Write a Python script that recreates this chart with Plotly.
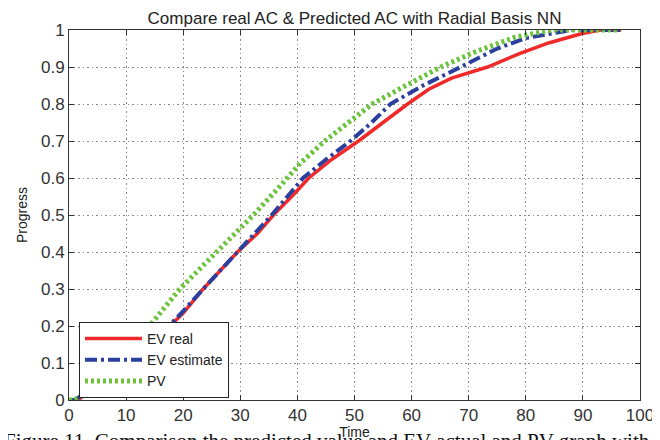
import plotly.graph_objects as go

# ---- data ----
real_t = [0, 1, 2, 5, 10, 14, 17.7, 20, 23.5, 26.5, 29.5, 33, 35.8, 39, 42, 46, 50.7, 55, 59.3, 63, 67, 73.3, 79, 84, 89.7, 93, 96.7]
real_y = [0, 0, 0.005, 0.04, 0.1, 0.15, 0.2, 0.235, 0.3, 0.35, 0.4, 0.45, 0.5, 0.55, 0.6, 0.65, 0.7, 0.75, 0.8, 0.84, 0.87, 0.9, 0.937, 0.965, 0.99, 1.0, 1.0]

est_t = [0, 1, 2, 5, 10, 14, 17.5, 20, 23.5, 29.5, 35.5, 41, 45, 49.3, 53, 56.3, 62, 68.6, 75, 80, 85, 88, 92, 97]
est_y = [0, 0, 0.01, 0.045, 0.1, 0.15, 0.2, 0.24, 0.3, 0.4, 0.5, 0.6, 0.65, 0.7, 0.75, 0.8, 0.85, 0.9, 0.95, 0.978, 0.993, 1.0, 1.0, 1.0]

pv_t = [0, 1, 2, 5, 10, 14.1, 19.4, 25.9, 32.3, 36.5, 40.5, 44.8, 49, 53.1, 59, 65.1, 71, 78, 84.5, 90, 96]
pv_y = [0, 0, 0.01, 0.06, 0.13, 0.2, 0.3, 0.4, 0.5, 0.57, 0.64, 0.7, 0.75, 0.8, 0.85, 0.9, 0.94, 0.98, 1.0, 1.0, 1.0]

x_ticks = [0, 10, 20, 30, 40, 50, 60, 70, 80, 90, 100]
y_ticks = [0, 0.1, 0.2, 0.3, 0.4, 0.5, 0.6, 0.7, 0.8, 0.9, 1]
y_tick_text = ["0", "0.1", "0.2", "0.3", "0.4", "0.5", "0.6", "0.7", "0.8", "0.9", "1"]

title_text = "Compare real AC &amp; Predicted AC with Radial Basis NN"
caption_text = "Figure 11. Comparison the predicted value and EV actual and PV graph with"

FONT = "Arial, Liberation Sans, Helvetica, sans-serif"

# the page adds an 8px body margin, so the figure is 652x432
W, H = 652, 432
L, R, T, B = 61, 20, 22, 40
PW, PH = W - L - R, H - T - B

fig = go.Figure()
fig.add_trace(go.Scatter(x=real_t, y=real_y, mode="lines", name="EV real",
                         line=dict(color="#f02a2a", width=3.5)))
fig.add_trace(go.Scatter(x=est_t, y=est_y, mode="lines", name="EV estimate",
                         line=dict(color="#2a3f9e", width=4, dash="12px,4px,3px,4px")))
fig.add_trace(go.Scatter(x=pv_t, y=pv_y, mode="lines", name="PV",
                         line=dict(color="#6cc33c", width=5, dash="3px,3px")))

axis_common = dict(
    showline=True, linecolor="#333333", linewidth=1, mirror="ticks",
    ticks="inside", ticklen=5, tickcolor="#333333",
    showgrid=True, gridcolor="#888888", griddash="1.5px,3px", gridwidth=1,
    zeroline=False, automargin=True,
    tickfont=dict(family=FONT, size=17, color="#333333"),
)

fig.update_layout(
    width=W, height=H, autosize=False,
    paper_bgcolor="white", plot_bgcolor="white",
    margin=dict(l=L, r=R, t=T, b=B, pad=0, autoexpand=False),
    title=dict(text=title_text, x=(L + PW / 2) / W, xanchor="center",
               y=1 - 10 / H, yanchor="middle",
               font=dict(family=FONT, size=17, color="#222222")),
    xaxis=dict(range=[0, 100], tickvals=x_ticks,
               title=dict(text="Time", font=dict(family=FONT, size=14, color="#222222"), standoff=0),
               **axis_common),
    yaxis=dict(range=[0, 1], tickvals=y_ticks, ticktext=y_tick_text,
               title=dict(text="Progress", font=dict(family=FONT, size=14, color="#222222"), standoff=10),
               **axis_common),
    legend=dict(x=10 / PW, y=2 / PH, xanchor="left", yanchor="bottom",
                bgcolor="white", bordercolor="#222222", borderwidth=1,
                font=dict(family=FONT, size=14, color="#222222"),
                itemwidth=57, tracegroupgap=0),
    showlegend=True,
)

fig.add_annotation(text=caption_text, xref="paper", yref="paper",
                   x=(-L - 6) / PW, xanchor="left", y=-27 / PH, yanchor="top",
                   showarrow=False,
                   font=dict(family="Liberation Serif, Times New Roman, serif", size=21, color="#111111"))

fig.write_html("out.html")
